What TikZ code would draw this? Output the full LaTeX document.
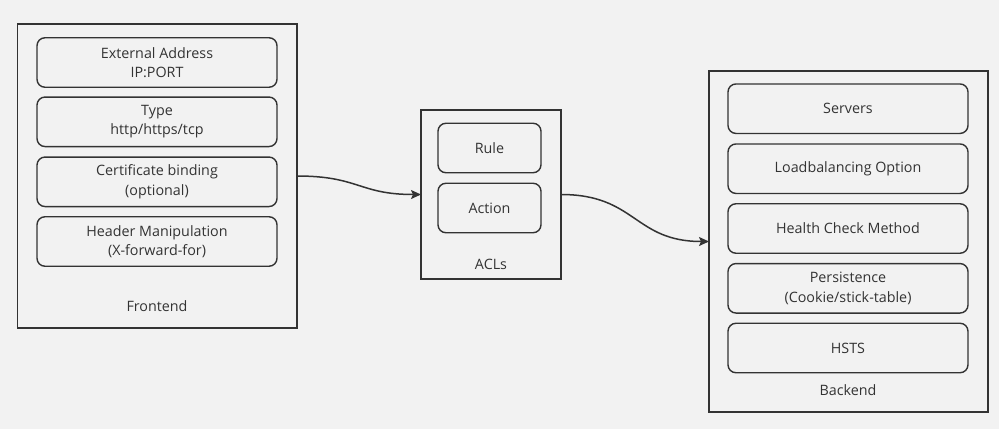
\documentclass[tikz,border=0pt]{standalone}
\usepackage{fontspec}
\setmainfont{Open Sans}
\usetikzlibrary{arrows.meta}
\definecolor{bg}{HTML}{F2F2F2}
\definecolor{ink}{HTML}{333333}
\begin{document}
\begin{tikzpicture}[x=1pt,y=-1pt,
  every node/.style={font=\fontsize{14.3}{19.5}\selectfont, text=ink, align=center, inner sep=0pt},
  outerbox/.style={draw=ink, line width=1.5pt, minimum width=#1, anchor=north west, outer sep=0pt},
  item/.style={draw=ink, line width=1.4pt, rounded corners=8pt, minimum width=240pt, minimum height=49.5pt},
  smallitem/.style={item, minimum width=103pt},
  conn/.style={draw=ink, line width=1.5pt, -{Stealth[length=10pt,width=9pt,inset=2pt]}}]
\fill[bg] (0,0) rectangle (999,429);
\useasboundingbox (0,0) rectangle (999,429);
% Frontend
\node[outerbox=279.5pt, minimum height=304pt] (fe) at (17.5,24) {};
\node[item] (f1) at (157,62.5) {External Address\\IP:PORT};
\node[item] (f2) at (157,121.8) {Type\\http/https/tcp};
\node[item] (f3) at (157,181.8) {Certificate binding\\(optional)};
\node[item] (f4) at (157,241.5) {Header Manipulation\\(X-forward-for)};
\node (fl) at (157,306.5) {Frontend};
% ACLs
\node[outerbox=140pt, minimum height=169pt] (acl) at (421,110) {};
\node[smallitem] (rule) at (489.5,148) {Rule};
\node[smallitem] (act) at (489.5,208) {Action};
\node (al) at (491,264.5) {ACLs};
% Backend
\node[outerbox=279pt, minimum height=341pt] (be) at (709,71) {};
\node[item] (b1) at (848,108.7) {Servers};
\node[item] (b2) at (848,168.7) {Loadbalancing Option};
\node[item] (b3) at (848,228.5) {Health Check Method};
\node[item] (b4) at (848,288.3) {Persistence\\(Cookie/stick-table)};
\node[item] (b5) at (848,348) {HSTS};
\node (bl) at (848,390.5) {Backend};
% connectors
\draw[conn] (fe.east) .. controls +(62,0) and +(-62,0) .. (acl.west);
\draw[conn] (acl.east) .. controls +(75,0) and +(-75,0) .. (be.west);
\end{tikzpicture}
\end{document}
